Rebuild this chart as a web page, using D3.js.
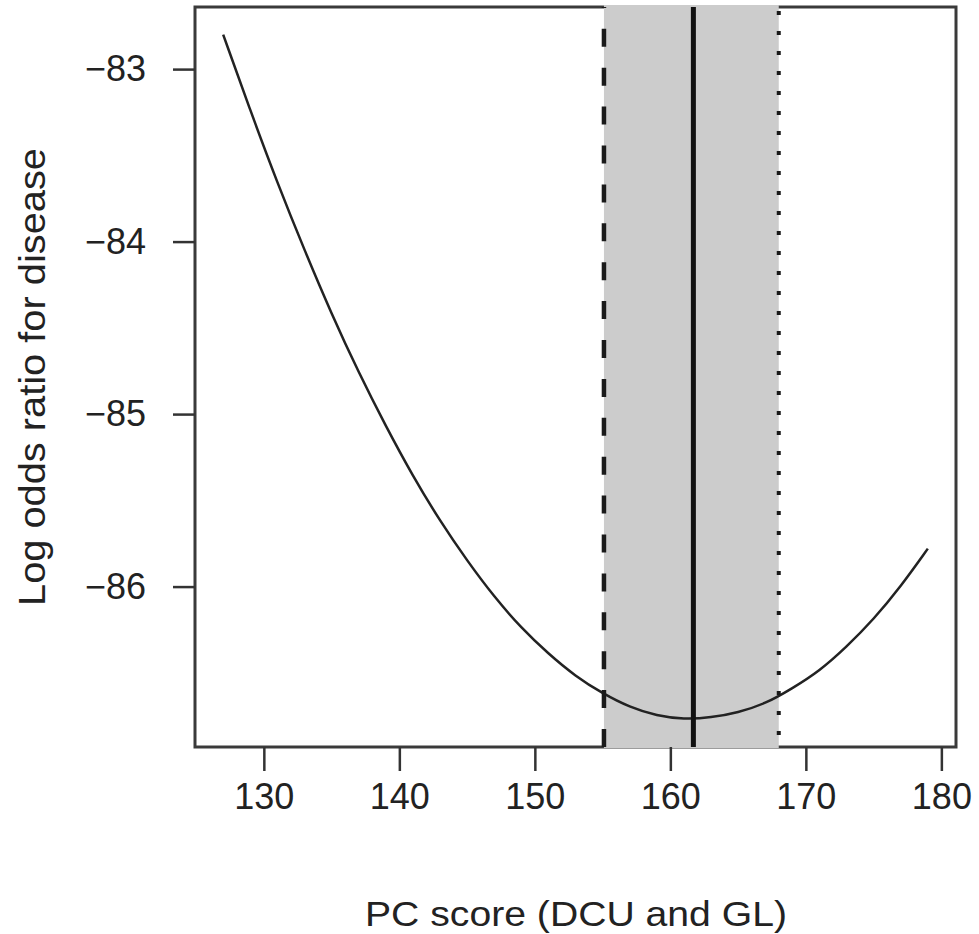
<!DOCTYPE html>
<html>
<head>
<meta charset="utf-8">
<script src="https://cdn.jsdelivr.net/npm/d3@7"></script>
<style>
  html, body { margin: 0; padding: 0; background: #fff; }
  svg { display: block; }
  text { font-family: "Liberation Sans", Arial, sans-serif; fill: #222; }
</style>
</head>
<body>
<svg id="chart" width="979" height="934"></svg>
<script>
// ---- Data ----
const pcScore = [127, 129, 131, 133, 135, 137, 139, 141, 143, 145, 147, 149, 151, 153,
                 155, 157, 159, 161, 163, 165, 167, 169, 171, 173, 175, 177, 179];
const logOdds = [-82.80, -83.24, -83.66, -84.05, -84.42, -84.76, -85.07, -85.36, -85.62,
                 -85.85, -86.06, -86.24, -86.39, -86.52, -86.62, -86.70, -86.75, -86.77,
                 -86.76, -86.73, -86.68, -86.59, -86.49, -86.35, -86.19, -86.00, -85.78];
const bandLower = 155.1;   // dashed line
const bandCenter = 161.7;  // solid line (minimum)
const bandUpper = 168.0;   // dotted line
const xTicks = [130, 140, 150, 160, 170, 180];
const yTicks = [-83, -84, -85, -86];
const xTitle = "PC score (DCU and GL)";
const yTitle = "Log odds ratio for disease";

// ---- Layout ----
const svg = d3.select("#chart");
const L = 195, R = 956, T = 7, B = 747;

const x = d3.scaleLinear().domain([124.92, 181.08]).range([L, R]);
const y = d3.scaleLinear().domain([-86.93, -82.64]).range([B, T]);

// plot box
svg.append("rect")
  .attr("x", L).attr("y", T).attr("width", R - L).attr("height", B - T)
  .attr("fill", "none").attr("stroke", "#3a3a3a").attr("stroke-width", 3);

// shaded band
svg.append("rect")
  .attr("x", x(bandLower)).attr("y", T - 2)
  .attr("width", x(bandUpper) - x(bandLower)).attr("height", B - T + 3)
  .attr("fill", "#cccccc");

// curve
const line = d3.line().x((d, i) => x(pcScore[i])).y(d => y(d)).curve(d3.curveBasis);
svg.append("path")
  .attr("d", line(logOdds))
  .attr("fill", "none").attr("stroke", "#222").attr("stroke-width", 2.5);

// vertical lines
svg.append("line")
  .attr("x1", x(bandLower)).attr("x2", x(bandLower)).attr("y1", B).attr("y2", T)
  .attr("stroke", "#1a1a1a").attr("stroke-width", 4.5).attr("stroke-dasharray", "18,20.9");
svg.append("line")
  .attr("x1", x(bandCenter)).attr("x2", x(bandCenter)).attr("y1", T).attr("y2", B)
  .attr("stroke", "#111").attr("stroke-width", 5);
svg.append("line")
  .attr("x1", x(bandUpper)).attr("x2", x(bandUpper)).attr("y1", T).attr("y2", B)
  .attr("stroke", "#1a1a1a").attr("stroke-width", 4).attr("stroke-dasharray", "4,16")
  .attr("stroke-dashoffset", 16);

// x axis
const xAxis = svg.append("g").attr("transform", `translate(0,${B})`)
  .call(d3.axisBottom(x).tickValues(xTicks).tickSize(24).tickPadding(12).tickFormat(d3.format("d")));
xAxis.select(".domain").remove();
xAxis.selectAll(".tick line").attr("stroke", "#333").attr("stroke-width", 2.5);
xAxis.selectAll(".tick text").attr("font-size", 36).attr("fill", "#222")
  .attr("font-family", "'Liberation Sans', Arial, sans-serif").attr("dy", "0.71em");

// y axis
const yAxis = svg.append("g").attr("transform", `translate(${L},0)`)
  .call(d3.axisLeft(y).tickValues(yTicks).tickSize(22).tickPadding(27)
    .tickFormat(d => "\u2212" + Math.abs(d)));
yAxis.select(".domain").remove();
yAxis.selectAll(".tick line").attr("stroke", "#333").attr("stroke-width", 2.5);
yAxis.selectAll(".tick text").attr("font-size", 36).attr("fill", "#222")
  .attr("font-family", "'Liberation Sans', Arial, sans-serif");

// axis titles
svg.append("text")
  .attr("x", (365 + 787) / 2).attr("y", 926)
  .attr("text-anchor", "middle").attr("font-size", 35)
  .attr("textLength", 422).attr("lengthAdjust", "spacingAndGlyphs")
  .text(xTitle);

svg.append("text")
  .attr("transform", `translate(45,${(T + B) / 2}) rotate(-90)`)
  .attr("text-anchor", "middle").attr("font-size", 37)
  .attr("textLength", 458).attr("lengthAdjust", "spacingAndGlyphs")
  .text(yTitle);
</script>
</body>
</html>
